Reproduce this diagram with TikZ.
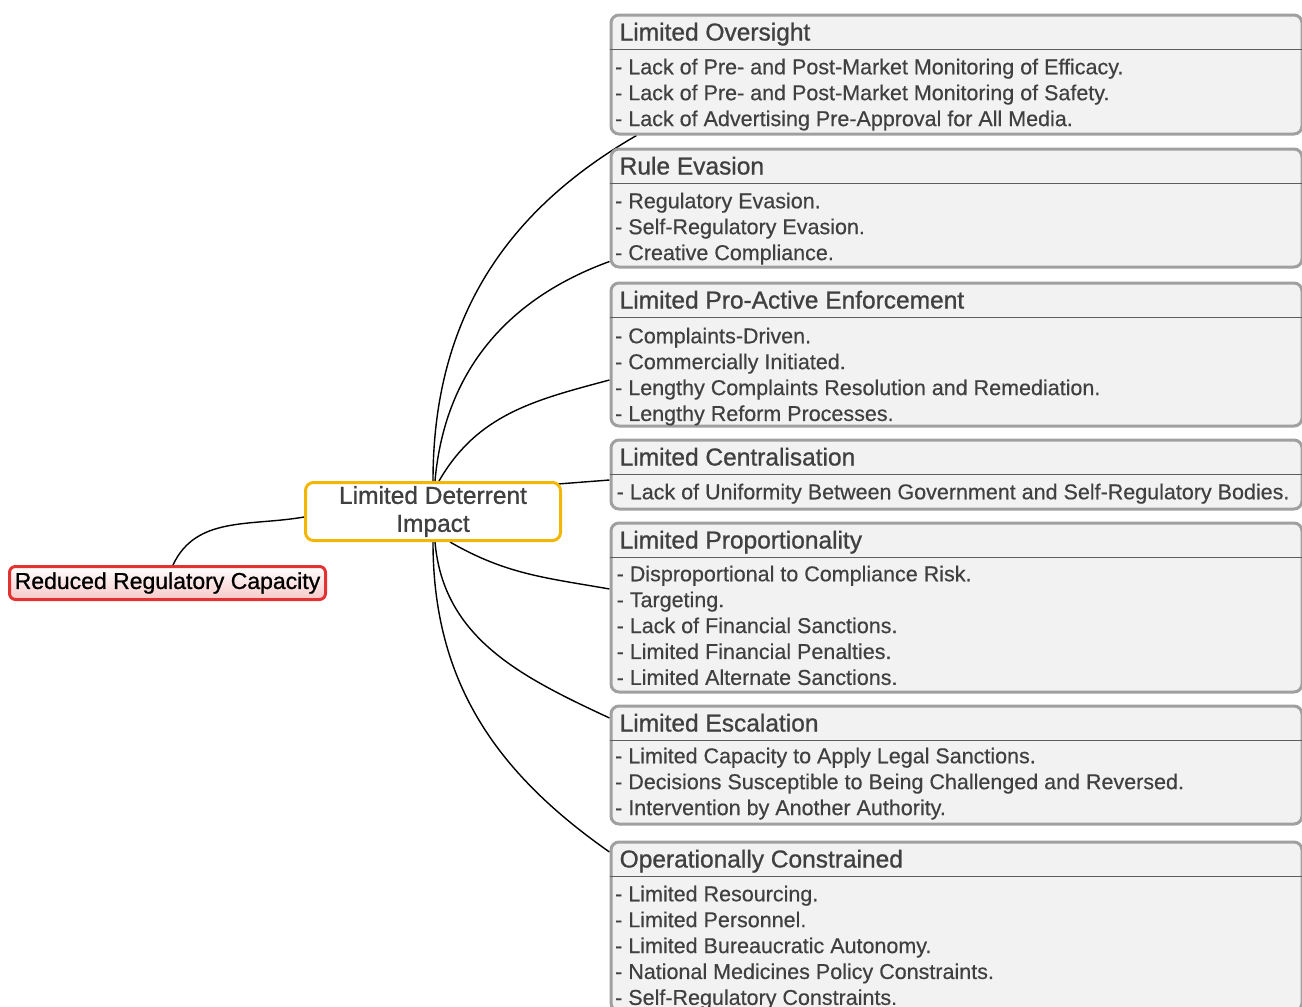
\documentclass[tikz,border=0pt]{standalone}
\usepackage{fontspec}
\setmainfont{Liberation Sans}
\newfontfamily\headfont[FakeBold=0.9]{Liberation Sans}
\newfontfamily\itemfont[FakeBold=0.4]{Liberation Sans}
\usetikzlibrary{positioning}
\usetikzlibrary{backgrounds}
\definecolor{boxfill}{HTML}{F2F2F2}
\definecolor{boxline}{HTML}{A0A0A0}
\definecolor{textgray}{HTML}{404040}
\definecolor{rootred}{HTML}{E23232}
\definecolor{rootpink}{HTML}{F7C9C9}
\definecolor{hubgold}{HTML}{F2B705}

\begin{document}
\begin{tikzpicture}[
  x = 1pt,
  y = -1pt,
  box/.style = {
    draw = boxline,
    line width = 3pt,
    fill = boxfill,
    rounded corners = 8pt,
    anchor = north west,
    minimum width = 691pt,
    inner sep = 0pt,
  },
  title/.style = {
    anchor = base west,
    inner sep = 0pt,
    text = textgray,
    font = \headfont\fontsize{24.5}{28}\selectfont,
  },
  body/.style = {
    anchor = north west,
    inner sep = 0pt,
    align = left,
    text = textgray,
    font = \itemfont\fontsize{21.5}{25.9}\selectfont,
  },
  divider/.style = {draw = textgray!85, line width = 1pt},
  link/.style = {-, line width = 1.4pt},
]

  \useasboundingbox (0,0) rectangle (1302,1007);

  \node[draw=rootred,line width=3pt,rounded corners=6pt,top color=white,bottom color=rootpink,
        minimum width=316pt,minimum height=33pt,inner sep=0pt,
        font=\headfont\fontsize{23}{26}\selectfont] (root) at (167.5,583) {Reduced Regulatory Capacity};
  \node[draw=hubgold,line width=3pt,rounded corners=8pt,fill=white,
        minimum width=255pt,minimum height=58pt,inner sep=0pt,align=center,text=textgray,
        font=\headfont\fontsize{24.5}{28}\selectfont] (hub) at (433,511.5) {Limited Deterrent\\Impact};

  % categories
  \node[box,minimum height=119pt] (c1) at (609.5,13.5) {};
  \node[title] (t1) at ([shift={(10,27)}]c1.north west) {Limited Oversight};
  \node[body] (b1) at ([shift={(5.5,45)}]c1.north west) {- Lack of Pre- and Post-Market Monitoring of Efficacy.\\- Lack of Pre- and Post-Market Monitoring of Safety.\\- Lack of Advertising Pre-Approval for All Media.};

  \node[box,minimum height=118pt] (c2) at (609.5,147.5) {};
  \node[title] (t2) at ([shift={(10,27)}]c2.north west) {Rule Evasion};
  \node[body] (b2) at ([shift={(5.5,45)}]c2.north west) {- Regulatory Evasion.\\- Self-Regulatory Evasion.\\- Creative Compliance.};

  \node[box,minimum height=143pt] (c3) at (609.5,281.5) {};
  \node[title] (t3) at ([shift={(10,27)}]c3.north west) {Limited Pro-Active Enforcement};
  \node[body] (b3) at ([shift={(5.5,46)}]c3.north west) {- Complaints-Driven.\\- Commercially Initiated.\\- Lengthy Complaints Resolution and Remediation.\\- Lengthy Reform Processes.};

  \node[box,minimum height=69pt] (c4) at (609.5,438.5) {};
  \node[title] (t4) at ([shift={(10,27)}]c4.north west) {Limited Centralisation};
  \node[body] (b4) at ([shift={(7,45)}]c4.north west) {- Lack of Uniformity Between Government and Self-Regulatory Bodies.};

  \node[box,minimum height=169pt] (c5) at (609.5,521.5) {};
  \node[title] (t5) at ([shift={(10,27)}]c5.north west) {Limited Proportionality};
  \node[body] (b5) at ([shift={(7,44)}]c5.north west) {- Disproportional to Compliance Risk.\\- Targeting.\\- Lack of Financial Sanctions.\\- Limited Financial Penalties.\\- Limited Alternate Sanctions.};

  \node[box,minimum height=118pt] (c6) at (609.5,704.5) {};
  \node[title] (t6) at ([shift={(10,27)}]c6.north west) {Limited Escalation};
  \node[body] (b6) at ([shift={(5.5,43)}]c6.north west) {- Limited Capacity to Apply Legal Sanctions.\\- Decisions Susceptible to Being Challenged and Reversed.\\- Intervention by Another Authority.};

  \node[box,minimum height=169pt] (c7) at (609.5,840.5) {};
  \node[title] (t7) at ([shift={(10,27)}]c7.north west) {Operationally Constrained};
  \node[body] (b7) at ([shift={(5.5,45)}]c7.north west) {- Limited Resourcing.\\- Limited Personnel.\\- Limited Bureaucratic Autonomy.\\- National Medicines Policy Constraints.\\- Self-Regulatory Constraints.};

  \foreach \c in {c1,c2,c3,c4,c5,c6,c7}
    \draw[divider] ([shift={(0,36)}]\c.north west) -- ([shift={(0,36)}]\c.north east);

  \begin{scope}[on background layer]
    \path[link] ([xshift=5.5pt]root.north) edge[out=65,in=190] ([shift={(0,5.5)}]hub.west);
    \path[link] (hub.north) edge[out=90,in=210] ([xshift=27pt]c1.south west);
    \path[link] ([xshift=2pt]hub.north) edge[out=85,in=200] ([shift={(0,114)}]c2.north west);
    \path[link] ([xshift=6pt]hub.north) edge[out=60,in=195] ([shift={(0,98.5)}]c3.north west);
    \draw[link] ([shift={(-4,3)}]hub.north east) -- ([shift={(0,41.5)}]c4.north west);
    \path[link] ([xshift=17pt]hub.south) edge[out=-30,in=170] ([shift={(0,67.5)}]c5.north west);
    \path[link] ([xshift=2pt]hub.south) edge[out=-85,in=155] ([shift={(0,13.5)}]c6.north west);
    \path[link] (hub.south) edge[out=-90,in=145] ([shift={(0,11.5)}]c7.north west);
  \end{scope}
\end{tikzpicture}
\end{document}
